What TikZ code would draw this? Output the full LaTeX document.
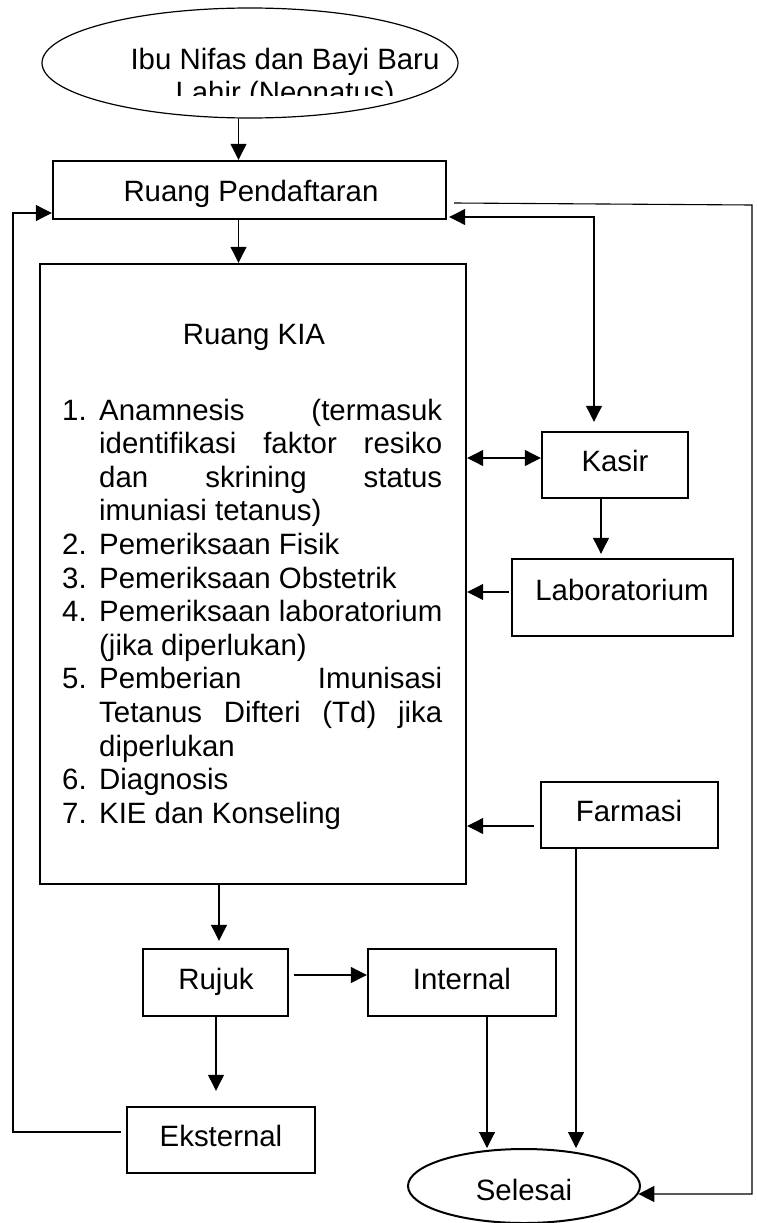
\documentclass[tikz,border=0pt]{standalone}
\usepackage{fontspec}
\setmainfont{Liberation Sans}
\usetikzlibrary{arrows.meta,shapes.geometric,calc}
\newcommand{\chartfont}{\fontsize{29.4pt}{33.6pt}\selectfont}
\begin{document}
\begin{tikzpicture}[x=1pt,y=-1pt,
  every node/.style={font=\chartfont, inner sep=0pt},
  box/.style={draw, line width=2.4pt, rectangle},
  txt/.style={anchor=base},
  item/.style={anchor=base west},
  link/.style={line width=1.1pt},
  tip/.style={link, -{Triangle[length=16pt,width=16pt]}},
  both/.style={link, {Triangle[length=16pt,width=16pt]}-{Triangle[length=16pt,width=16pt]}},
]
\useasboundingbox (0,0) rectangle (757,1223);
\fill[white] (0,0) rectangle (757,1223);

% start terminal
\node[draw, ellipse, line width=1.2pt, minimum width=416pt, minimum height=110pt] (start) at (250,63) {};
\begin{scope}
  \clip (0,0) rectangle (757,95);
  \node[txt] (startA) at (285,70) {Ibu Nifas dan Bayi Baru};
  \node[txt] (startB) at (285,102) {Lahir (Neonatus)};
\end{scope}

% registration
\node[box, minimum width=393pt, minimum height=58pt] (rp) at (249.5,190) {};
\node[txt] (rpT) at (251,201) {Ruang Pendaftaran};

% maternal and child health room
\node[box, minimum width=426pt, minimum height=620pt] (kia) at (253,574) {};
\node[txt] (kiaT) at (254,344) {Ruang KIA};

\node[item] (n1) at (62,420) {1.};
\node[item] (l1) at (99,420) {\makebox[343pt][s]{Anamnesis (termasuk}};
\node[item] (l2) at (99,453.6) {\makebox[343pt][s]{identifikasi faktor resiko}};
\node[item] (l3) at (99,487.2) {\makebox[343pt][s]{dan skrining status}};
\node[item] (l4) at (99,520.8) {imuniasi tetanus)};
\node[item] (n2) at (62,554.4) {2.};
\node[item] (l5) at (99,554.4) {Pemeriksaan Fisik};
\node[item] (n3) at (62,588) {3.};
\node[item] (l6) at (99,588) {Pemeriksaan Obstetrik};
\node[item] (n4) at (62,621.6) {4.};
\node[item] (l7) at (99,621.6) {Pemeriksaan laboratorium};
\node[item] (l8) at (99,655.2) {(jika diperlukan)};
\node[item] (n5) at (62,688.8) {5.};
\node[item] (l9) at (99,688.8) {\makebox[343pt][s]{Pemberian Imunisasi}};
\node[item] (l10) at (99,722.4) {\makebox[343pt][s]{Tetanus Difteri (Td) jika}};
\node[item] (l11) at (99,756) {diperlukan};
\node[item] (n6) at (62,789.6) {6.};
\node[item] (l12) at (99,789.6) {Diagnosis};
\node[item] (n7) at (62,823.2) {7.};
\node[item] (l13) at (99,823.2) {KIE dan Konseling};

% service units
\node[box, minimum width=146pt, minimum height=66pt] (kasir) at (615,465) {};
\node[txt] (kasirT) at (615,471) {Kasir};
\node[box, minimum width=221pt, minimum height=77pt] (lab) at (622.5,597.5) {};
\node[txt] (labT) at (622,600) {Laboratorium};
\node[box, minimum width=177pt, minimum height=66pt] (farm) at (629.5,815) {};
\node[txt] (farmT) at (629,821) {Farmasi};
\node[box, minimum width=145pt, minimum height=67pt] (rujuk) at (215.5,982.5) {};
\node[txt] (rujukT) at (216,989) {Rujuk};
\node[box, minimum width=188pt, minimum height=67pt] (int) at (462,982.5) {};
\node[txt] (intT) at (462,989) {Internal};
\node[box, minimum width=188pt, minimum height=66pt] (eks) at (221,1140) {};
\node[txt] (eksT) at (221,1146) {Eksternal};

% end terminal
\node[draw, ellipse, line width=2pt, minimum width=232pt, minimum height=74pt] (sel) at (524,1186) {};
\node[txt] (selT) at (524,1200) {Selesai};

% connectors
\coordinate (c1) at (238.5,0);
\draw[tip] (c1 |- start.south) -- (c1 |- rp.north);
\draw[tip] (c1 |- rp.south) -- (c1 |- kia.north);

\coordinate (rr) at (752,0);
\draw[tip] ($(rp.east)+(7,13)$) -- (752,205) -- (rr |- sel.-4.6) -- (sel.-4.6);

\coordinate (kc) at (594,217);
\draw[both, shorten >=9pt] ($(rp.east)+(2,27)$) -- (kc) -- (kc |- kasir.north);

\coordinate (dk) at (0,458);
\draw[both] (kia.east |- dk) -- (kasir.west |- dk);
\draw[tip, shorten >=4pt] (601,0 |- kasir.south) -- (601,0 |- lab.north);

\draw[tip] ($(lab.west)+(-2,-5.5)$) -- (kia.east |- 0,592);
\draw[tip] ($(farm.west)+(-6,11)$) -- (kia.east |- 0,826);

\draw[tip] (576,0 |- farm.south) -- (576,0 |- sel.north);
\draw[tip] (487,0 |- int.south) -- (487,0 |- sel.north);

\draw[tip, shorten >=7pt] (219,0 |- kia.south) -- (219,0 |- rujuk.north);
\draw[tip] ($(rujuk.east)+(5,-7.5)$) -- (int.west |- 0,975);
\draw[tip, shorten >=15pt] (216,0 |- rujuk.south) -- (216,0 |- eks.north);

\draw[tip] ($(eks.west)+(-5,-8)$) -- (13,1132) -- (13,213) -- (rp.west |- 0,213);
\end{tikzpicture}
\end{document}
